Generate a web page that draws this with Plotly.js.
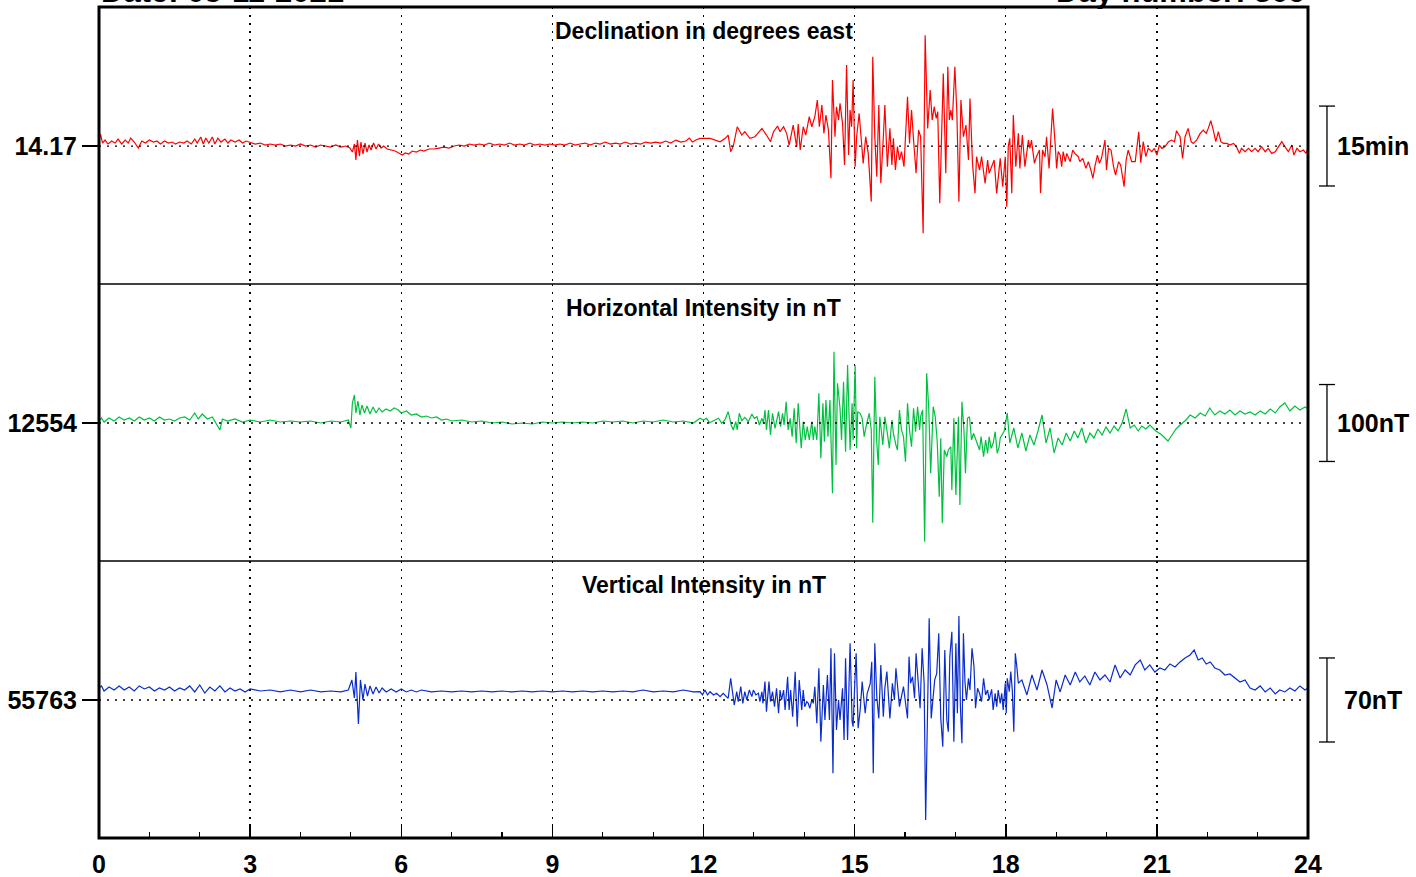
<!DOCTYPE html>
<html>
<head>
<meta charset="utf-8">
<script src="https://cdn.plot.ly/plotly-3.0.1.min.js"></script>
<style>html,body{margin:0;padding:0;background:#fff;}#chart{width:1416px;height:877px;}</style>
</head>
<body>
<div id="chart"></div>
<script>
// ---- Baselines (axis labels) ----
const dBase = 14.17;   // degrees east
const hBase = 12554;   // nT
const zBase = 55763;   // nT

// ---- Declination: time (h UT) and deviation from baseline (arcmin) ----
const dTimeA = [0.00,0.03,0.07,0.12,0.18,0.25,0.32,0.38,0.45,0.52,
 0.58,0.63,0.70,0.78,0.85,0.92,1.00,1.08,1.15,1.22,
 1.30,1.38,1.45,1.52,1.60,1.68,1.75,1.83,1.90,1.95,
 2.02,2.07,2.12,2.18,2.25,2.30,2.36,2.42,2.50,2.56,
 2.62,2.70,2.78,2.85,2.92,3.00,3.10,3.20,3.30,3.40,
 3.50,3.60,3.70,3.80,3.90,4.00,4.10,4.20,4.30,4.40,
 4.50,4.60,4.70,4.80,4.90,4.98,5.03,5.07,5.10,5.13,
 5.17,5.20,5.24,5.28,5.32,5.36,5.40,5.45,5.50,5.55,
 5.60,5.65,5.72,5.80,5.88,5.95,6.02,6.08,6.15,6.22,
 6.30,6.38,6.45,6.55,6.65,6.75,6.85,6.95,7.05,7.15,
 7.25,7.35,7.45,7.55,7.65,7.75,7.85,7.95,8.05,8.15,
 8.25,8.35,8.45,8.55,8.65,8.75,8.85,8.95,9.05,9.15,
 9.25,9.35,9.45,9.55,9.65,9.75,9.85,9.95,10.05,10.15,
 10.25,10.35,10.45,10.55,10.65,10.75,10.85,10.95,11.05,11.15,
 11.25,11.35,11.45,11.55,11.65,11.72,11.78,11.85];
const dDevA = [0.94,2.25,0.56,1.12,0.38,0.94,0.56,1.31,0.38,1.12,
 0.56,1.5,0.75,-0.38,0.94,0.56,1.12,0.75,0.94,0.38,
 0.94,0.56,0.75,0.38,0.75,0.56,0.94,0.38,1.31,0.56,
 1.69,0.38,1.5,0.56,1.69,0.38,1.5,0.75,1.31,0.56,
 1.12,0.75,1.12,0.56,0.94,0.75,0.38,0.56,0.19,0.38,
 0.19,0.38,0,0.19,0,0.38,0,0.19,-0.19,0.19,
 0,-0.19,0.19,-0.19,0,-0.38,-1.12,0.38,-2.62,1.12,
 -1.88,0.75,-1.5,0.56,-1.12,0.19,-0.75,0.56,-0.56,0.38,
 -0.38,0,-0.56,-0.75,-0.94,-1.31,-1.69,-1.31,-1.5,-0.94,
 -1.12,-0.75,-0.94,-0.56,-0.56,-0.38,-0.19,-0.38,0,0.19,
 0,0.38,0.19,0.38,0.19,0.56,0.19,0.38,0.19,0.56,
 0.19,0.38,0.19,0.56,0.19,0.38,0.19,0.38,0.19,0.38,
 0.19,0.56,0.19,0.38,0.56,0.19,0.56,0.38,0.75,0.38,
 0.56,0.38,0.75,0.38,0.56,0.38,0.75,0.56,0.75,0.56,
 0.94,0.56,1.12,0.75,0.94,1.5,0.75,1.12];
const dTimeB = [11.93,12.13,12.33,12.43,12.49,12.54,12.59,12.67,12.76,12.82,
 12.92,13.02,13.16,13.25,13.33,13.39,13.47,13.52,13.59,13.65,
 13.70,13.78,13.85,13.88,13.92,13.98,14.03,14.10,14.15,14.21,
 14.26,14.30,14.35,14.39,14.43,14.48,14.53,14.56,14.61,14.64,
 14.68,14.71,14.76,14.80,14.84,14.88,14.91,14.94,14.97,15.01,
 15.04,15.09,15.14,15.17,15.22,15.27,15.33,15.36,15.40,15.44,
 15.48,15.52,15.57,15.60,15.65,15.70,15.74,15.77,15.81,15.85,
 15.89,15.93,15.98,16.02,16.05,16.09,16.13,16.17,16.22,16.27,
 16.31,16.36,16.40,16.45,16.50,16.54,16.58,16.62,16.65,16.69,
 16.73,16.76,16.81,16.85,16.88,16.91,16.94,16.99,17.03,17.07,
 17.11,17.16,17.21,17.26,17.29,17.34,17.39,17.42,17.48,17.52,
 17.59,17.64,17.67,17.72,17.77,17.82];
const dDevB = [1.44,1.44,0.81,1.44,2.06,-1.06,-0.12,3.62,2.06,2.69,
 1.44,1.75,3.31,2.06,0.81,2.69,3.75,2.69,3.62,2.38,
 0.19,3.94,-0.12,4.12,-0.75,3.62,2.06,5.5,3.62,5.5,
 8.62,3.62,7.69,2.38,5.81,3.0,-6.06,12.38,1.75,7.38,
 4.88,8.0,4.25,-3.56,15.19,-1.69,6.75,3.62,12.38,-3.88,
 1.75,6.12,-0.12,-3.25,1.75,-1.38,-10.44,16.75,1.75,-5.75,
 7.69,-7.0,1.75,7.69,-3.88,3.31,-3.56,1.44,-4.5,-0.12,
 -2.62,-1.06,-3.88,5.5,9.25,0.5,6.75,1.12,-5.12,3.0,
 1.75,-16.38,20.81,3.31,10.5,4.88,7.38,5.19,6.44,-10.75,
 4.56,13.62,-5.12,14.88,4.88,6.75,4.88,14.88,6.12,-10.44,
 8.62,1.75,3.94,-2.62,8.94,-3.25,-8.88,-2.0,-4.5,-2.0,
 -7.0,-2.62,-5.12,-3.88,-2.62,-8.88];
const dTimeC = [17.89,17.94,17.99,18.02,18.05,18.08,18.12,18.15,18.20,18.25,
 18.28,18.33,18.38,18.45,18.48,18.51,18.57,18.61,18.67,18.69,
 18.73,18.78,18.81,18.86,18.89,18.93,18.98,19.01,19.04,19.08,
 19.11,19.14,19.18,19.21,19.28,19.33,19.37,19.44,19.47,19.53,
 19.59,19.64,19.69,19.73,19.77,19.82,19.86,19.90,19.97,20.00,
 20.04,20.09,20.14,20.18,20.24,20.28,20.35,20.39,20.43,20.50,
 20.57,20.61,20.64,20.68,20.73,20.78,20.83,20.90,20.95,21.00,
 21.05,21.10,21.16,21.23,21.29,21.35,21.39,21.46,21.51,21.56,
 21.62,21.68,21.72,21.79,21.86,21.92,21.98,22.02,22.07,22.12,
 22.17,22.22,22.27,22.32,22.39,22.45,22.52,22.58,22.64,22.68,
 22.75,22.82,22.88,22.95,23.01,23.08,23.15,23.21,23.28,23.35,
 23.41,23.48,23.54,23.61,23.68,23.72,23.78,23.84,23.91,23.96,
 24.00];
const dDevC = [-2.31,-7.62,-2.0,-11.38,-0.12,1.44,-8.88,5.81,-3.88,2.38,
 -4.19,2.06,-3.88,1.12,-0.44,1.12,-3.25,-2.0,-0.75,-8.88,
 -0.75,-2.0,1.75,-4.19,1.75,7.06,0.5,-4.19,-1.06,-1.69,
 -3.88,-1.06,-2.94,-1.38,-2.94,-0.75,-1.38,-2.0,-2.94,-2.31,
 -4.19,-2.94,-4.5,-6.06,-3.88,-1.69,-3.25,-2.31,1.12,-4.5,
 -0.44,-0.75,-3.88,-5.44,-2.94,-3.56,-7.62,-2.62,-0.75,-2.94,
 -2.94,0.5,2.69,-3.12,0.81,-2.0,-0.44,-1.06,-0.44,-1.69,
 0.19,-0.44,-0.12,0.81,1.12,0.81,2.88,1.75,-2.31,1.75,
 3.31,0.81,0.5,1.12,2.38,3.0,2.38,3.31,4.75,3.0,
 0.81,2.69,0.81,0.5,0.5,0.19,0.5,-0.12,-1.38,-0.44,
 -1.06,-0.44,-1.06,-0.44,-1.06,-0.12,-1.06,-0.44,-1.38,-1.06,
 -0.12,0.81,-0.12,-1.06,0.19,-1.69,-0.44,-1.06,-0.75,-1.38,
 -0.44];

// ---- Horizontal intensity: time (h) and deviation from baseline (nT) ----
const hTimeA = [0.00,0.05,0.10,0.20,0.30,0.40,0.50,0.60,0.70,0.80,
 0.90,1.00,1.10,1.20,1.30,1.40,1.50,1.60,1.70,1.80,
 1.90,1.97,2.05,2.15,2.25,2.40,2.45,2.55,2.70,2.85,
 3.00,3.20,3.40,3.60,3.80,4.00,4.20,4.40,4.60,4.80,
 4.95,5.00,5.03,5.07,5.10,5.14,5.18,5.22,5.27,5.32,
 5.38,5.44,5.50,5.56,5.62,5.70,5.78,5.86,5.94,6.00,
 6.10,6.20,6.30,6.40,6.50,6.60,6.70,6.80,6.90,7.00,
 7.20,7.40,7.60,7.80,8.00,8.20,8.40,8.60,8.80,9.00,
 9.20,9.40,9.60,9.80,10.00,10.20,10.40,10.60,10.80,11.00,
 11.20,11.40,11.60,11.80];
const hDevA = [2.6,6.5,1.3,6.5,2.6,7.8,3.9,6.5,2.6,7.8,
 3.9,6.5,2.6,7.8,3.9,5.2,2.6,6.5,7.8,3.9,
 13,5.2,11.7,5.2,7.8,-9.1,5.2,2.6,5.2,1.3,
 3.9,1.3,3.9,1.3,2.6,1.3,2.6,0,2.6,1.3,
 3.9,-6.5,26,36.4,13,28.6,10.4,23.4,13,22.1,
 11.7,20.8,13,19.5,14.3,18.2,15.6,19.5,16.9,13,
 15.6,10.4,11.7,7.8,9.1,6.5,7.8,3.9,5.2,2.6,
 3.9,1.3,2.6,0,1.3,-1.3,0,-1.3,1.3,0,
 1.3,0,1.3,0,2.6,1.3,2.6,0,2.6,1.3,
 3.9,1.3,2.6,0];
const hTimeB = [11.93,12.00,12.06,12.12,12.20,12.30,12.36,12.43,12.49,12.55,
 12.59,12.64,12.67,12.71,12.76,12.82,12.89,12.96,13.01,13.06,
 13.11,13.16,13.19,13.22,13.25,13.29,13.33,13.37,13.42,13.45,
 13.49,13.53,13.57,13.60,13.64,13.68,13.72,13.76,13.80,13.84,
 13.88,13.94,13.98,14.02,14.06,14.10,14.15,14.18,14.21,14.25,
 14.29,14.33,14.37,14.40,14.43,14.47,14.51,14.56,14.59,14.63,
 14.66,14.71,14.74,14.78,14.82,14.86,14.91,14.95,14.97,15.01,
 15.04,15.06,15.11,15.15,15.19,15.24,15.29,15.33,15.36,15.40,
 15.44,15.47,15.50,15.56,15.60,15.65,15.69,15.74,15.77,15.82,
 15.85,15.89,15.93,15.97,16.01,16.05,16.09,16.13,16.17,16.21,
 16.25,16.29,16.31,16.35,16.39,16.43,16.47,16.51,16.56,16.60,
 16.64,16.68,16.71,16.74,16.78,16.83,16.86,16.91,16.93,16.97,
 17.01,17.06,17.09,17.13,17.17,17.20,17.24,17.28,17.32,17.36,
 17.40,17.44,17.48,17.51,17.56,17.60,17.64,17.67,17.71,17.75,
 17.79,17.83,17.87];
const hDevB = [6.1,3.9,6.1,0.4,3.0,6.1,-0.4,4.8,14.7,-2.6,
 -9.1,1.7,-9.1,12.6,3.0,7.4,1.7,11.7,6.1,8.2,
 -2.6,6.1,-0.4,16.9,-9.1,16.9,-15.6,12.6,-6.9,1.7,
 14.7,-4.8,12.6,-2.6,27.7,-9.1,6.1,-17.8,19.1,-26.4,
 25.6,-32.9,1.7,-22.1,-4.8,-22.1,1.7,-22.1,-4.8,-22.1,
 38.6,-45.9,25.6,-24.3,29.9,-17.8,29.9,-91.4,92.7,-54.6,
 51.6,19.1,-22.1,53.7,-37.3,75.4,-35.1,25.6,-22.1,75.4,
 -32.9,14.7,12.6,6.1,-17.8,-0.4,12.6,-9.1,-129.6,60.2,
 -26.4,-54.6,8.2,-28.6,8.2,-13.4,-32.9,3.9,-13.4,-28.6,
 -35.1,16.9,-9.1,-17.8,-50.3,25.6,-9.1,-30.8,19.1,-11.3,
 21.2,-9.1,8.2,16.9,-154.3,64.6,21.2,-65.4,21.2,8.2,
 -24.3,-95.8,-19.9,-130.4,-35.1,-43.8,-35.1,-30.8,-87.1,6.1,
 -93.6,8.2,-106.6,27.7,-9.1,-65.4,6.1,8.2,-22.1,-13.4,
 -19.9,-26.4,-35.1,-17.8,-43.8,-22.1,-39.4,-17.8,-32.9,-26.4,
 -11.3,-39.4,-30.8];
const hTimeC = [17.89,17.97,18.03,18.08,18.16,18.24,18.32,18.40,18.48,18.56,
 18.64,18.72,18.80,18.88,18.96,19.04,19.12,19.20,19.28,19.36,
 19.43,19.51,19.59,19.67,19.75,19.83,19.91,19.99,20.07,20.15,
 20.23,20.31,20.39,20.47,20.55,20.63,20.70,20.78,20.86,20.98,
 21.10,21.22,21.30,21.38,21.46,21.58,21.66,21.76,21.86,21.96,
 22.05,22.15,22.25,22.35,22.45,22.55,22.65,22.75,22.85,22.95,
 23.05,23.15,23.25,23.35,23.44,23.54,23.64,23.74,23.84,23.94,
 24.00];
const hDevC = [-19.5,-10.4,13,-26,-6.5,-32.5,-13,-36.4,-15.6,-28.6,
 -10.4,10.4,-26,-6.5,-39,-19.5,-28.6,-13,-23.4,-10.4,
 -19.5,-6.5,-26,-13,-19.5,-7.8,-15.6,-5.2,-13,-3.9,
 -10.4,0,18.2,-6.5,-2.6,-10.4,-3.9,-7.8,-2.6,-10.4,
 -15.6,-23.4,-15.6,-7.8,-2.6,3.9,10.4,6.5,13,9.1,
 19.5,10.4,15.6,11.7,16.9,10.4,15.6,11.7,14.3,10.4,
 15.6,11.7,18.2,13,20.8,26,15.6,22.1,16.9,20.8,
 18.2];

// ---- Vertical intensity: time (h) and deviation from baseline (nT) ----
const zTimeA = [0.00,0.05,0.10,0.20,0.30,0.40,0.50,0.60,0.70,0.80,
 0.90,1.00,1.10,1.20,1.30,1.40,1.50,1.60,1.70,1.80,
 1.90,2.00,2.10,2.20,2.30,2.40,2.50,2.60,2.70,2.80,
 2.90,3.00,3.20,3.40,3.60,3.80,4.00,4.20,4.40,4.60,
 4.80,4.95,5.02,5.07,5.10,5.15,5.19,5.24,5.28,5.33,
 5.38,5.44,5.50,5.56,5.62,5.70,5.80,5.90,6.00,6.10,
 6.20,6.30,6.40,6.60,6.80,7.00,7.20,7.40,7.60,7.80,
 8.00,8.20,8.40,8.60,8.80,9.00,9.20,9.40,9.60,9.80,
 10.00,10.20,10.40,10.60,10.80,11.00,11.20,11.40,11.60,11.80];
const zDevA = [10,11.7,7.5,10.8,8.3,11.7,8.3,10.8,7.5,11.7,
 9.2,10.8,7.5,10,8.3,10.8,7.5,10,8.3,11.7,
 6.7,12.5,5.8,10.8,7.5,11.7,6.7,10,7.5,9.2,
 6.7,9.2,7.5,8.3,6.7,8.3,6.7,8.3,6.7,7.5,
 6.7,8.3,16.7,1.7,23.3,-20,16.7,0,13.3,3.3,
 11.7,5,10.8,5.8,10,6.7,9.2,6.7,9.2,6.7,
 8.3,6.7,8.3,6.7,7.5,6.7,7.5,6.7,7.5,6.7,
 7.5,6.7,7.5,6.7,7.5,6.7,7.5,6.7,7.5,6.7,
 7.5,6.7,7.5,6.7,8.3,6.7,7.5,6.7,8.3,6.7];
const zTimeB = [11.93,11.98,12.03,12.08,12.13,12.20,12.26,12.33,12.39,12.45,
 12.49,12.54,12.58,12.61,12.66,12.69,12.74,12.78,12.82,12.86,
 12.91,12.96,12.99,13.04,13.09,13.12,13.16,13.18,13.22,13.25,
 13.30,13.33,13.37,13.41,13.45,13.49,13.52,13.55,13.59,13.62,
 13.67,13.70,13.73,13.77,13.82,13.86,13.90,13.95,13.98,14.01,
 14.05,14.08,14.11,14.15,14.18,14.21,14.25,14.29,14.33,14.38,
 14.41,14.46,14.50,14.53,14.57,14.60,14.64,14.68,14.71,14.76,
 14.79,14.82,14.86,14.88,14.91,14.95,14.97,15.00,15.03,15.07,
 15.11,15.15,15.21,15.25,15.31,15.34,15.37,15.40,15.44,15.48,
 15.52,15.57,15.60,15.64,15.67,15.70,15.75,15.79,15.82,15.85,
 15.89,15.93,15.97,16.02,16.05,16.08,16.11,16.15,16.19,16.22,
 16.26,16.30,16.34,16.38,16.41,16.45,16.48,16.52,16.56,16.59,
 16.63,16.67,16.71,16.75,16.79,16.83,16.86,16.89,16.93,16.97,
 17.01,17.04,17.07,17.10,17.13,17.16,17.19,17.22,17.26,17.29,
 17.33,17.37,17.40,17.44,17.48,17.52,17.56,17.60,17.64,17.67,
 17.72,17.75,17.79,17.82,17.85,17.89,17.92,17.95,17.99,18.01,
 18.03,18.07,18.10,18.13,18.16,18.19,18.22,18.25,18.28];
const zDevB = [6.9,4.2,8.3,4.2,6.9,4.2,5.6,2.8,5.6,2.8,
 1.4,18.1,2.8,-4.2,6.9,-1.4,11.1,-2.8,6.9,0,
 8.3,2.8,8.3,4.2,5.6,-1.4,6.9,-2.8,15.3,-9.7,
 15.3,-1.4,6.9,-5.6,9.7,-11.1,8.3,0,8.3,-8.3,
 19.4,-8.3,8.3,-13.9,23.6,-22.2,16.7,-8.3,8.3,-5.6,
 -1.4,-2.8,-6.9,0,-2.8,11.1,-19.4,26.4,-34.7,12.5,
 -16.7,20.8,-16.7,43.1,-61.1,38.9,-25,0,-16.7,9.7,
 -33.3,34.7,-33.3,-8.3,47.2,-18.1,-22.2,11.1,38.9,-23.6,
 -8.3,15.3,-11.1,5.6,13.9,31.9,-61.1,47.2,2.8,-15.3,
 29.2,-13.9,9.7,23.6,2.8,-15.3,13.9,0,26.4,11.1,
 -5.6,2.8,11.1,-5.6,-15.3,36.1,13.9,19.4,1.4,38.9,
 13.9,-6.9,43.1,13.9,-100,0,68.1,-15.3,6.9,16.7,
 22.2,55.6,-15.3,-38.9,41.7,-16.7,-26.4,36.1,56.9,-34.7,
 47.2,-11.1,70,-5.6,-36.1,55.6,15.3,0,18.1,8.3,
 43.1,27.8,-6.9,9.7,5.6,-1.4,18.1,4.2,8.3,0,
 8.9,-8.3,5.6,-5.6,8.3,-2.8,5.6,-8.3,13.9,-11.1,
 18.1,6.9,23.6,8.3,-26.4,38.9,27.8,13.9,15.3];
const zTimeC = [18.32,18.42,18.52,18.62,18.72,18.82,18.92,19.00,19.08,19.18,
 19.28,19.38,19.47,19.57,19.67,19.77,19.87,19.97,20.07,20.17,
 20.27,20.37,20.47,20.57,20.67,20.76,20.86,20.96,21.06,21.16,
 21.26,21.36,21.46,21.56,21.66,21.74,21.82,21.90,21.98,22.06,
 22.15,22.25,22.35,22.45,22.55,22.65,22.75,22.85,22.95,23.05,
 23.15,23.25,23.35,23.44,23.54,23.64,23.74,23.84,23.94,24.00];
const zDevC = [16.7,4.2,20.8,8.3,25,12.5,-6.7,16.7,6.7,20.8,
 12.5,23.3,15,20,12.5,23.3,16.7,20.8,15,29.2,
 18.3,25,20.8,29.2,33.3,25,29.2,23.3,26.7,25,
 30,27.5,31.7,35,37.5,41.7,33.3,35,30,31.7,
 26.7,25,20.8,21.7,18.3,15,16.7,10,8.3,11.7,
 6.7,10,5,8.3,6.7,10,7.5,11.7,8.3,10];

// ---- Text ----
const panelTitles = ['Declination in degrees east', 'Horizontal Intensity in nT', 'Vertical Intensity in nT'];
const baseLabels = ['14.17', '12554', '55763'];
const scaleLabels = ['15min', '100nT', '70nT'];
const scaleSizes = [15/60, 100, 70];  // scale bar length in axis units
const dateText = 'Date: 05-11-2021';
const dayText = 'Day number: 309';

// ---- Build series ----
const dTime = dTimeA.concat(dTimeB, dTimeC);
const dVal = dDevA.concat(dDevB, dDevC).map(v => dBase + v / 60);
const hTime = hTimeA.concat(hTimeB, hTimeC);
const hVal = hDevA.concat(hDevB, hDevC).map(v => hBase + v);
const zTime = zTimeA.concat(zTimeB, zTimeC);
const zVal = zDevA.concat(zDevB, zDevC).map(v => zBase + v);

const bases = [dBase, hBase, zBase];
const ranges = [
  [dBase - 25.9/60, dBase + 26.1/60],
  [hBase - 179.4, hBase + 180.7],
  [zBase - 115.0, zBase + 115.8]
];
const domains = [[2/3, 1], [1/3, 2/3], [0, 1/3]];

const FONT = 'Liberation Sans, Arial, Helvetica, sans-serif';
const colors = ['#ff0000', '#00c040', '#0a2ccc'];

const traces = [
  {x: dTime, y: dVal, xaxis: 'x', yaxis: 'y'},
  {x: hTime, y: hVal, xaxis: 'x2', yaxis: 'y2'},
  {x: zTime, y: zVal, xaxis: 'x3', yaxis: 'y3'}
].map((t, i) => Object.assign(t, {
  type: 'scatter', mode: 'lines', line: {color: colors[i], width: 1.2}, hoverinfo: 'skip', showlegend: false
}));

const DOT = '2px,6px';
const layout = {
  width: 1416, height: 877,
  margin: {l: 99, r: 108, t: 7, b: 39, pad: 0},
  paper_bgcolor: '#ffffff', plot_bgcolor: '#ffffff',
  font: {family: FONT, color: '#000', size: 22, weight: 'bold'},
  showlegend: false,
  shapes: [], annotations: []
};

const ax = ['', '2', '3'];
for (let i = 0; i < 3; i++) {
  const isBottom = i === 2;
  layout['xaxis' + ax[i]] = {
    domain: [0, 1], anchor: 'y' + ax[i], range: [0, 24],
    tickmode: 'linear', tick0: 0, dtick: 3,
    showgrid: true, gridcolor: '#000', gridwidth: 1.3, griddash: DOT,
    zeroline: false, showline: false,
    ticks: isBottom ? 'inside' : '', ticklen: 14, tickwidth: 1.5, tickcolor: '#000',
    showticklabels: isBottom, ticklabelstandoff: 9,
    tickfont: {family: FONT, size: 25, color: '#000', weight: 'bold'},
    minor: isBottom ? {ticks: 'inside', dtick: 1, ticklen: 6, tickwidth: 1.2, tickcolor: '#000', showgrid: false} : undefined,
    fixedrange: true
  };
  layout['yaxis' + ax[i]] = {
    domain: domains[i], anchor: 'x' + ax[i], range: ranges[i],
    tickmode: 'array', tickvals: [bases[i]], ticktext: [baseLabels[i]],
    ticks: 'outside', ticklen: 16, tickwidth: 1.3, tickcolor: '#000',
    tickfont: {family: FONT, size: 25, color: '#000', weight: 'bold'},
    showgrid: false, zeroline: false, showline: false, fixedrange: true
  };
  // dotted baseline
  layout.shapes.push({type: 'line', xref: 'x' + ax[i], yref: 'y' + ax[i], x0: 0, x1: 24, y0: bases[i], y1: bases[i],
    line: {color: '#000', width: 1.3, dash: DOT}, layer: 'above'});
  // scale bar (paper coords computed from the axis range)
  const r = ranges[i], d = domains[i];
  const toPaper = v => d[0] + (v - r[0]) / (r[1] - r[0]) * (d[1] - d[0]);
  const yTop = toPaper(bases[i] + scaleSizes[i] / 2), yBot = toPaper(bases[i] - scaleSizes[i] / 2);
  const xb = 1.0157, xs0 = 1.0091, xs1 = 1.0223;
  layout.shapes.push({type: 'line', xref: 'paper', yref: 'paper', x0: xb, x1: xb, y0: yBot, y1: yTop, line: {color: '#000', width: 1.3}});
  layout.shapes.push({type: 'line', xref: 'paper', yref: 'paper', x0: xs0, x1: xs1, y0: yTop, y1: yTop, line: {color: '#000', width: 1.3}});
  layout.shapes.push({type: 'line', xref: 'paper', yref: 'paper', x0: xs0, x1: xs1, y0: yBot, y1: yBot, line: {color: '#000', width: 1.3}});
  layout.annotations.push({xref: 'paper', yref: 'paper', x: 1.0538, y: toPaper(bases[i]), xanchor: 'center', yanchor: 'middle',
    text: scaleLabels[i], showarrow: false, font: {family: FONT, size: 25, color: '#000', weight: 'bold'}});
  // panel title
  layout.annotations.push({xref: 'paper', yref: 'paper', x: 0.5, y: d[1] - 24/831, xanchor: 'center', yanchor: 'middle',
    text: panelTitles[i], showarrow: false, font: {family: FONT, size: 23, color: '#000', weight: 'bold'}});
}
// frame and panel separators
layout.shapes.push({type: 'rect', xref: 'paper', yref: 'paper', x0: 0, x1: 1, y0: 0, y1: 1, line: {color: '#000', width: 3}, layer: 'above'});
layout.shapes.push({type: 'line', xref: 'paper', yref: 'paper', x0: 0, x1: 1, y0: 1/3, y1: 1/3, line: {color: '#000', width: 1.5}, layer: 'above'});
layout.shapes.push({type: 'line', xref: 'paper', yref: 'paper', x0: 0, x1: 1, y0: 2/3, y1: 2/3, line: {color: '#000', width: 1.5}, layer: 'above'});
// top header (partly above the image edge, as in the original)
layout.annotations.push({xref: 'paper', yref: 'paper', x: 0, y: 1, xanchor: 'left', yanchor: 'bottom', yshift: -4,
  text: dateText, showarrow: false, font: {family: FONT, size: 31, color: '#000', weight: 'bold'}});
layout.annotations.push({xref: 'paper', yref: 'paper', x: 1, y: 1, xanchor: 'right', yanchor: 'bottom', yshift: -4,
  text: dayText, showarrow: false, font: {family: FONT, size: 31, color: '#000', weight: 'bold'}});

Plotly.newPlot('chart', traces, layout, {displayModeBar: false, staticPlot: true});
</script>
</body>
</html>
